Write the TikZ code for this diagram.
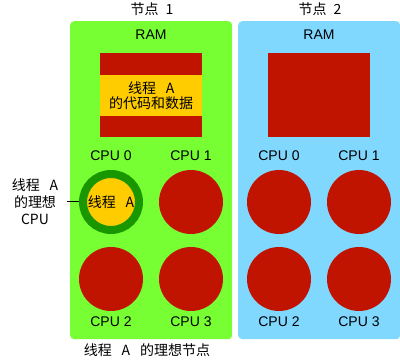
\documentclass[tikz,border=0pt]{standalone}
\usepackage{fontspec}
\setmainfont{Liberation Sans}
\newfontfamily\cjk{Noto Sans CJK SC}
\definecolor{nodegreen}{HTML}{77FF33}
\definecolor{nodeblue}{HTML}{80D8FF}
\definecolor{cpured}{HTML}{C11400}
\definecolor{threadyellow}{HTML}{FFCC00}
\definecolor{ringgreen}{HTML}{1A9600}
\newcommand{\gapA}{\hspace{0.7em}A}
\tikzset{
	nodebox/.style={rounded corners=4pt, inner sep=0pt, minimum width=162pt, minimum height=318pt, anchor=north west},
	rambox/.style={fill=cpured, inner sep=0pt, minimum width=102pt, minimum height=84pt, anchor=north west},
	cpu/.style={circle, fill=cpured, minimum size=64pt, inner sep=0pt},
	lbl/.style={font=\fontsize{14}{16}\selectfont},
	cjklbl/.style={font=\fontsize{14}{17}\selectfont\cjk, align=center},
}
\begin{document}
\begin{tikzpicture}[x=1pt, y=-1pt]
	\useasboundingbox (0,0) rectangle (400,361);
	% two NUMA nodes
	\node[nodebox, fill=nodegreen] (node1) at (70,21) {};
	\node[nodebox, fill=nodeblue] (node2) at (238,21) {};
	\node[cjklbl] (title1) at (152,9) {节点\hspace{0.5em}1};
	\node[cjklbl] (title2) at (320,9) {节点\hspace{0.5em}2};
	% RAM of each node
	\foreach \n/\x in {1/100, 2/268} {
		\node[lbl] (ramlbl\n) at (\x+51,35) {RAM};
		\node[rambox] (ram\n) at (\x,53) {};
	}
	\node[fill=threadyellow, inner sep=0pt, minimum width=102pt, minimum height=41pt, anchor=north west,
		cjklbl, font=\fontsize{14}{15.5}\selectfont\cjk] (code) at (100,75) {线程\gapA\\的代码和数据};
	% CPUs: top row with labels above, bottom row with labels below
	\foreach \n/\x in {1/111, 2/279} {
		\pgfmathtruncatemacro{\xb}{\x+80}
		\node[lbl] at (\x,156) {CPU 0};
		\node[lbl] at (\xb,156) {CPU 1};
		\node[cpu] (cpu\n-1) at (\xb,202) {};
		\node[cpu] (cpu\n-2) at (\x,279) {};
		\node[cpu] (cpu\n-3) at (\xb,279) {};
		\node[lbl] at (\x,322) {CPU 2};
		\node[lbl] at (\xb,322) {CPU 3};
	}
	\node[cpu] (cpu2-0) at (279,202) {};
	% ideal CPU of thread A
	\node[circle, draw=ringgreen, line width=8pt, fill=threadyellow, minimum size=56pt, inner sep=0pt,
		cjklbl] (cpu1-0) at (111,202) {线程\gapA};
	\node[cjklbl] (ideal) at (35,202) {线程\gapA\\的理想\\CPU};
	\coordinate (idealend) at (67,202);
	\draw[line width=1pt] (idealend) -- (cpu1-0.west);
	\node[cjklbl] (caption) at (147,350) {线程\gapA\hspace{0.7em}的理想节点};
\end{tikzpicture}
\end{document}
